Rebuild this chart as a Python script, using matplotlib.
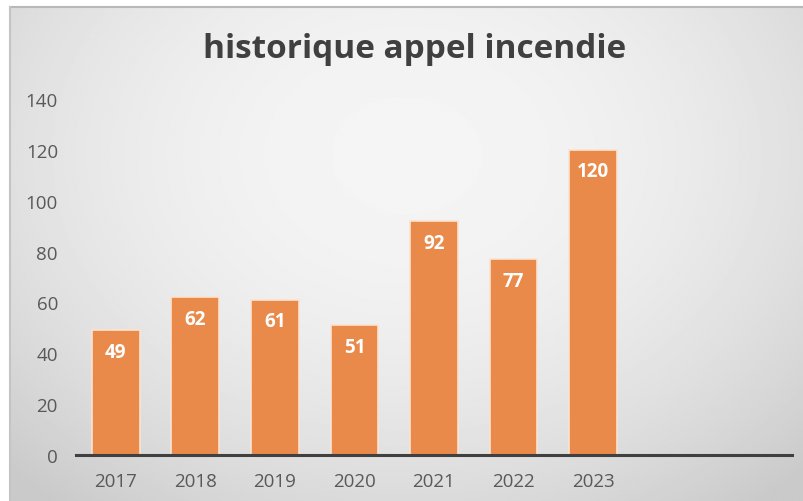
import numpy as np
import matplotlib.pyplot as plt

annees = ['2017', '2018', '2019', '2020', '2021', '2022', '2023']
appels = [49, 62, 61, 51, 92, 77, 120]
nb_cases = 9  # l'axe garde deux cases vides a droite
yticks = [0, 20, 40, 60, 80, 100, 120, 140]

plt.rcParams['font.family'] = ['Open Sans', 'DejaVu Sans']

W, H = 804, 502
fig = plt.figure(figsize=(W / 100, H / 100), dpi=100)
fig.patch.set_facecolor('white')

# fond degrade radial facon Excel
bg = fig.add_axes([10 / W, 0, 1 - 10 / W, 1 - 8 / H])
yy, xx = np.mgrid[0:1:300j, 0:1:500j]
r = np.sqrt(((xx - 0.5) / 0.72) ** 2 + ((yy - 0.3) / 0.9) ** 2)
r = np.clip(r, 0, 1)
val = 0.96 - 0.17 * r ** 2
bg.imshow(val, cmap='gray', vmin=0, vmax=1, aspect='auto',
          extent=[0, 1, 1, 0], interpolation='bilinear')
bg.set_axis_off()
fig.add_artist(plt.Line2D([10 / W, 1], [1 - 8 / H, 1 - 8 / H],
                          color='#b8b8b8', lw=1.5, transform=fig.transFigure))
fig.add_artist(plt.Line2D([10 / W, 10 / W], [0, 1 - 8 / H],
                          color='#c4c4c4', lw=1.5, transform=fig.transFigure))

ax = fig.add_axes([76 / W, 1 - 456 / H, (792 - 76) / W, (456 - 100) / H])
ax.patch.set_alpha(0)
x = np.arange(len(annees))
bars = ax.bar(x, appels, width=0.6, color='#E98A4B',
              edgecolor='#FBE3D0', linewidth=1.2, zorder=2)

for b, v in zip(bars, appels):
    ax.text(b.get_x() + b.get_width() / 2, v - 8.5, str(v), ha='center',
            va='center', color='white', fontsize=13.5, fontweight='bold',
            zorder=3)

ax.set_xlim(-0.5, nb_cases - 0.5)
ax.set_ylim(0, 140)
ax.set_xticks(x)
ax.set_xticklabels(annees)
ax.set_yticks(yticks)
ax.tick_params(length=0, colors='#595959', labelsize=13.5)
ax.tick_params(axis='x', pad=12)
ax.tick_params(axis='y', pad=13)
for s in ['top', 'right', 'left']:
    ax.spines[s].set_visible(False)
ax.spines['bottom'].set_color('#404040')
ax.spines['bottom'].set_linewidth(2.2)
ax.spines['bottom'].set_zorder(4)

fig.text(415 / W, 1 - 50 / H, 'historique appel incendie', ha='center',
         va='center', fontsize=24, fontweight='bold', color='#404040')

fig.savefig('out.png', dpi=100)
